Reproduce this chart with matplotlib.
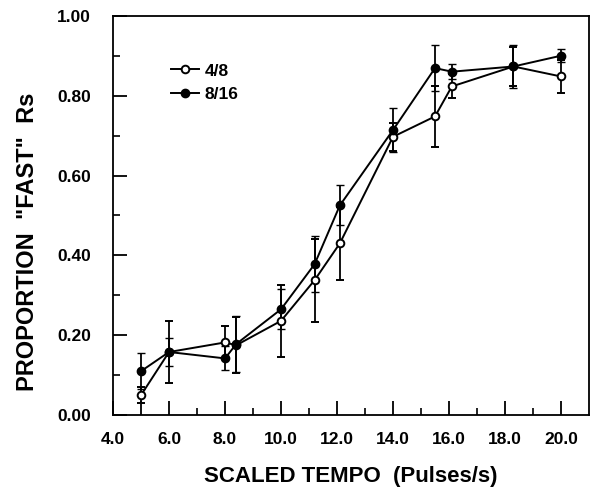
import matplotlib
matplotlib.use("Agg")
import matplotlib.pyplot as plt
from matplotlib.ticker import FixedLocator
from matplotlib.lines import Line2D

plt.rcParams['font.family'] = ['Liberation Sans', 'DejaVu Sans']
plt.rcParams['font.weight'] = 'bold'

# tempo values (pulses/s)
tempo = [5.0, 6.0, 8.0, 8.4, 10.0, 11.2, 12.1, 14.0, 15.5, 16.1, 18.3, 20.0]

# 4/8 (open)
p_48 = [0.05, 0.158, 0.182, 0.175, 0.236, 0.338, 0.43, 0.697, 0.748, 0.823, 0.873, 0.848]
err_48 = [0.02, 0.078, 0.042, 0.07, 0.09, 0.104, 0.092, 0.035, 0.077, 0.03, 0.05, 0.042]

# 8/16 (filled)
p_816 = [0.11, 0.158, 0.142, 0.178, 0.265, 0.378, 0.525, 0.714, 0.869, 0.86, 0.873, 0.9]
err_816 = [0.045, 0.035, 0.03, 0.07, 0.05, 0.07, 0.05, 0.055, 0.058, 0.018, 0.054, 0.017]

xticks = [4, 5, 6, 8, 10, 12, 14, 16, 18, 20]
xtick_labels = ["4.0", "", "6.0", "8.0", "10.0", "12.0", "14.0", "16.0", "18.0", "20.0"]
yticks = [0.0, 0.2, 0.4, 0.6, 0.8, 1.0]
ytick_labels = ["0.00", "0.20", "0.40", "0.60", "0.80", "1.00"]

fig = plt.figure(figsize=(5.98, 4.93), dpi=100)
ax = fig.add_axes([0.189, 0.158, 0.796, 0.81])

ax.errorbar(tempo, p_48, yerr=err_48, color='black', lw=1.4, marker='o',
            ms=5.5, mfc='white', mec='black', mew=1.4, capsize=3, elinewidth=1.3)
ax.errorbar(tempo, p_816, yerr=err_816, color='black', lw=1.4, marker='o',
            ms=6, mfc='black', mec='black', capsize=3, elinewidth=1.3)

ax.set_xlim(4, 21)
ax.set_ylim(0, 1.0)
ax.xaxis.set_major_locator(FixedLocator(xticks))
ax.set_xticklabels(xtick_labels)
ax.xaxis.set_minor_locator(FixedLocator([7, 9, 11, 13, 15, 17, 19]))
ax.yaxis.set_major_locator(FixedLocator(yticks))
ax.set_yticklabels(ytick_labels)
ax.yaxis.set_minor_locator(FixedLocator([0.1, 0.3, 0.5, 0.7, 0.9]))

ax.tick_params(axis='both', which='major', direction='in', length=10, width=1.3,
               labelsize=12.5, pad=12)
ax.tick_params(axis='both', which='minor', direction='in', length=5, width=1.2)
ax.tick_params(axis='y', pad=16)
for s in ax.spines.values():
    s.set_linewidth(1.3)

ax.set_xlabel('SCALED TEMPO  (Pulses/s)', fontsize=16, fontweight='bold', labelpad=14)
ax.set_ylabel('PROPORTION  "FAST"  Rs', fontsize=17, fontweight='bold')
ax.yaxis.set_label_coords(-0.156, 0.435)

handles = [Line2D([], [], color='black', lw=1.4, marker='o', ms=5.5, mfc='white', mew=1.4),
           Line2D([], [], color='black', lw=1.4, marker='o', ms=6, mfc='black')]
ax.legend(handles, ['4/8', '8/16'], loc='upper left', bbox_to_anchor=(0.09, 0.92),
          frameon=False, fontsize=12.5, handlelength=1.6, handletextpad=0.3,
          labelspacing=0.5)

fig.savefig('out.png', dpi=100)
